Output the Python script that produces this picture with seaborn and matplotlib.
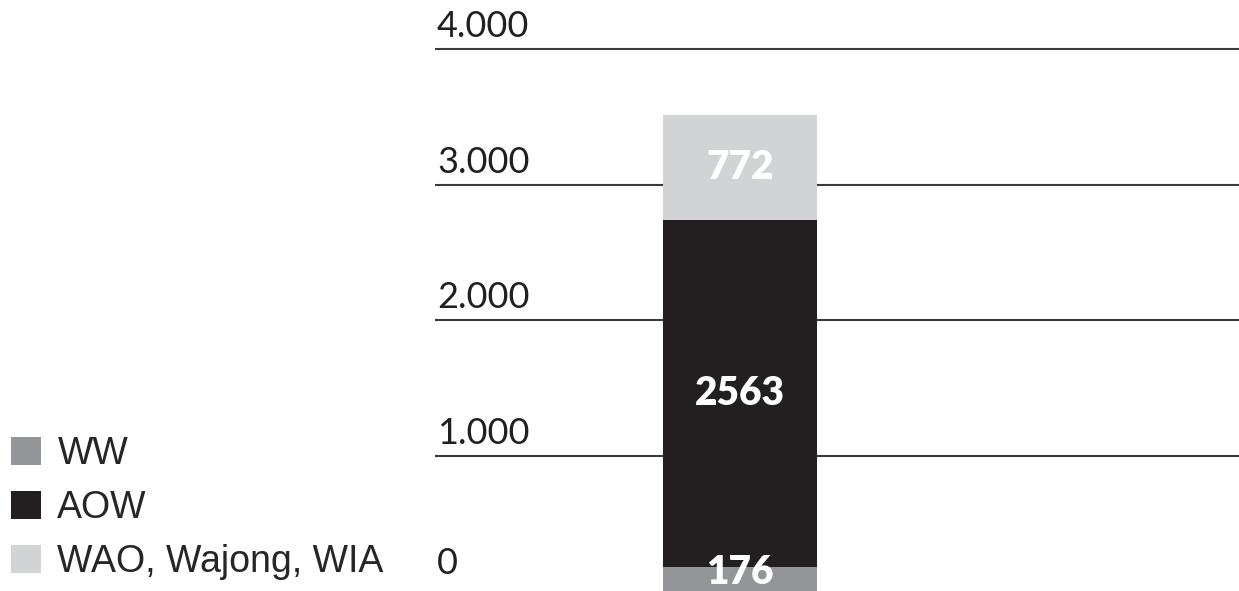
import matplotlib

matplotlib.use("Agg")
import matplotlib.pyplot as plt
from matplotlib.patches import Patch
import seaborn as sns

# Data
categories = ["totaal"]
series_names = ["WW", "AOW", "WAO, Wajong, WIA"]
ww_values = [176]
aow_values = [2563]
wao_values = [772]
y_ticks = [0, 1000, 2000, 3000, 4000]
y_tick_labels = ["0", "1.000", "2.000", "3.000", "4.000"]

colors = {"WW": "#939598", "AOW": "#231f20", "WAO, Wajong, WIA": "#d1d3d4"}

sns.set_theme(style="white")
plt.rcParams["font.family"] = ["Lato", "DejaVu Sans"]

fig = plt.figure(figsize=(12.39, 5.91), dpi=100)
ax = fig.add_axes([435 / 1239, 0, 804 / 1239, 1])

# stacked bar: each segment starts on top of the previous ones
bottoms = [0] * len(categories)
for name, vals in zip(series_names, [ww_values, aow_values, wao_values]):
    sns.barplot(
        x=categories,
        y=vals,
        bottom=bottoms,
        color=colors[name],
        width=0.8,
        ax=ax,
        saturation=1,
        linewidth=0,
        zorder=3,
    )
    bottoms = [b + v for b, v in zip(bottoms, vals)]

label_style = dict(color="white", fontsize=28, fontweight="heavy")
for i, cont in enumerate(ax.containers):
    labels = [f"{int(b.get_height())}" for b in cont]
    if i == 0:
        # bottom segment is thin: sit the label on the bar base so it stays in view
        for b, lab in zip(cont, labels):
            ax.annotate(
                lab,
                xy=(b.get_x() + b.get_width() / 2, b.get_y()),
                xytext=(0, 0),
                textcoords="offset points",
                ha="center",
                va="bottom",
                zorder=5,
                **label_style,
            )
    else:
        ax.bar_label(cont, labels=labels, label_type="center", **label_style)

ax.set_xlim(-1.584, 2.593)
ax.set_ylim(0, 4362)

# gridlines (no line at zero) with labels sitting above them
for t, lab in zip(y_ticks, y_tick_labels):
    if t > 0:
        ax.axhline(t, color="#3a3a3a", lw=1.5, zorder=1)
    ax.annotate(
        lab,
        xy=(0, t),
        xycoords=("axes fraction", "data"),
        xytext=(1.5, 4 if t > 0 else 8),
        textcoords="offset points",
        ha="left",
        va="bottom",
        fontsize=26,
        color="#231f20",
    )

ax.set_xticks([])
ax.set_yticks([])
ax.set_xlabel("")
ax.set_ylabel("")
sns.despine(ax=ax, left=True, bottom=True)

handles = [Patch(facecolor=colors[n], edgecolor="none") for n in series_names]
fig.legend(
    handles,
    series_names,
    loc="lower left",
    bbox_to_anchor=(0.0, 0.0),
    frameon=False,
    prop={"family": ["Liberation Sans", "DejaVu Sans"], "size": 27},
    handlelength=0.78,
    handleheight=0.78,
    handletextpad=0.45,
    labelspacing=0.48,
    borderaxespad=0.0,
    borderpad=0.3,
)

fig.savefig("out.png", dpi=100)
